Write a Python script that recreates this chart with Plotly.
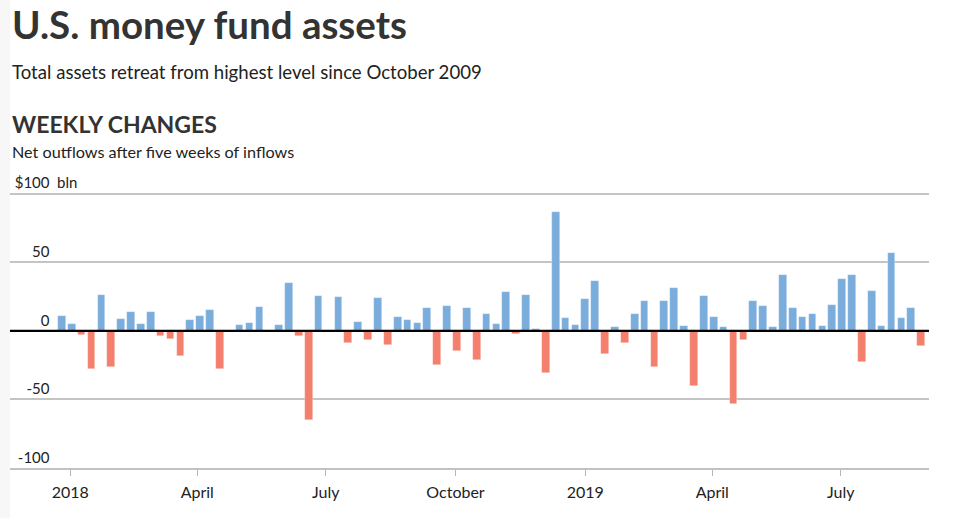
import pandas as pd
import plotly.graph_objects as go

# ---- data (weekly change, $ bln) ----
first_week = "2017-12-26"
weekly_change = [
    11, 5, -3, -28, 26, -26, 9, 14, 5, 14,
    -4, -6, -18, 8, 11, 15, -28, 0, 4, 6,
    17.5, 0, 4, 35, -4, -65, 25.5, 0, 24.5, -8.5,
    6.5, -7, 24, -10, 10, 8, 6, 17, -25, 18,
    -15, 16.5, -21, 12, 5, 28, -2.5, 26, 1.5, -31,
    87, 9.5, 4.5, 23, 36, -17, 3, -8.5, 12.5, 21.5,
    -26.5, 22, 31, 3.5, -40, 25.5, 10, 2.5, -53.5, -7,
    22, 18, 2.5, 40.5, 17, 10, 12, 3.5, 19, 37.5,
    41, -23, 29, 3.5, 57, 9.5, 17, -11,
]
weeks = pd.date_range(first_week, periods=len(weekly_change), freq="7D")

x_tick_dates = ["2018-01-01", "2018-04-01", "2018-07-01", "2018-10-01",
                "2019-01-01", "2019-04-01", "2019-07-01"]
x_tick_labels = ["2018", "April", "July", "October", "2019", "April", "July"]
y_tick_vals = [100, 50, 0, -50, -100]
y_tick_labels = ["$100", "50", "0", "-50", "-100"]

BLUE = "#7aaddc"
RED = "#f47f6c"
FONT = "Lato"
colors = [BLUE if v >= 0 else RED for v in weekly_change]

fig = go.Figure()
fig.add_trace(go.Bar(
    x=weeks, y=weekly_change,
    marker=dict(color=colors, line=dict(color="rgba(255,255,255,0.45)", width=0.6)),
    width=5.45 * 86400000,
    hoverinfo="x+y",
))

fig.update_layout(
    width=963, height=518,
    margin=dict(l=10, r=34, t=180, b=50),
    paper_bgcolor="white", plot_bgcolor="white",
    showlegend=False,
    bargap=0,
    font=dict(family=FONT, color="#222"),
    xaxis=dict(
        type="date",
        range=["2017-11-19 06:00", "2019-09-01 14:00"],
        tickvals=x_tick_dates, ticktext=x_tick_labels,
        showgrid=False, zeroline=False,
        showline=True, linecolor="#c2c2c2", linewidth=1.5,
        ticks="outside", ticklen=6, tickcolor="#b5b5b5", tickwidth=1,
        ticklabelstandoff=3,
        tickfont=dict(size=16, color="#222", family=FONT),
        fixedrange=True,
    ),
    yaxis=dict(
        range=[-100, 110],
        anchor="free", position=0.043,
        tickvals=y_tick_vals, ticktext=y_tick_labels,
        ticklabelposition="outside top",
        ticks="", showline=False,
        showgrid=True, gridcolor="#c4c4c4", gridwidth=1.5,
        zeroline=False,
        tickfont=dict(size=15, color="#222", family=FONT),
        fixedrange=True,
    ),
)

# zero line above bars
fig.add_shape(type="line", xref="paper", yref="y", x0=0, x1=1, y0=0, y1=0,
              line=dict(color="black", width=2.2), layer="above")
# light strip at left page edge
fig.add_shape(type="rect", xref="paper", yref="paper", x0=-10 / 919, x1=0,
              y0=-50 / 288, y1=(518 - 50) / 288, fillcolor="#f7f7f7",
              line=dict(width=0), layer="below")

PH = 288.0
def py(px):
    return (468 - px) / PH

annos = [
    dict(text="<b>U.S. money fund assets</b>", y=py(24), size=38.5, color="#333"),
    dict(text="Total assets retreat from highest level since October 2009", y=py(72), size=18.6, color="#222"),
    dict(text="<b>WEEKLY CHANGES</b>", y=py(124), size=23, color="#333"),
    dict(text="Net outflows after five weeks of inflows", y=py(151), size=16.2, color="#222"),
]
for a in annos:
    fig.add_annotation(text=a["text"], xref="paper", yref="paper", x=0, y=a["y"],
                       xanchor="left", yanchor="middle", showarrow=False,
                       font=dict(size=a["size"], color=a["color"], family=FONT))

fig.add_annotation(text="bln", xref="paper", yref="paper", x=(55 - 10) / 919, y=py(182),
                   xanchor="left", yanchor="middle", showarrow=False,
                   font=dict(size=15, color="#222", family=FONT))

fig.write_html("out.html")
